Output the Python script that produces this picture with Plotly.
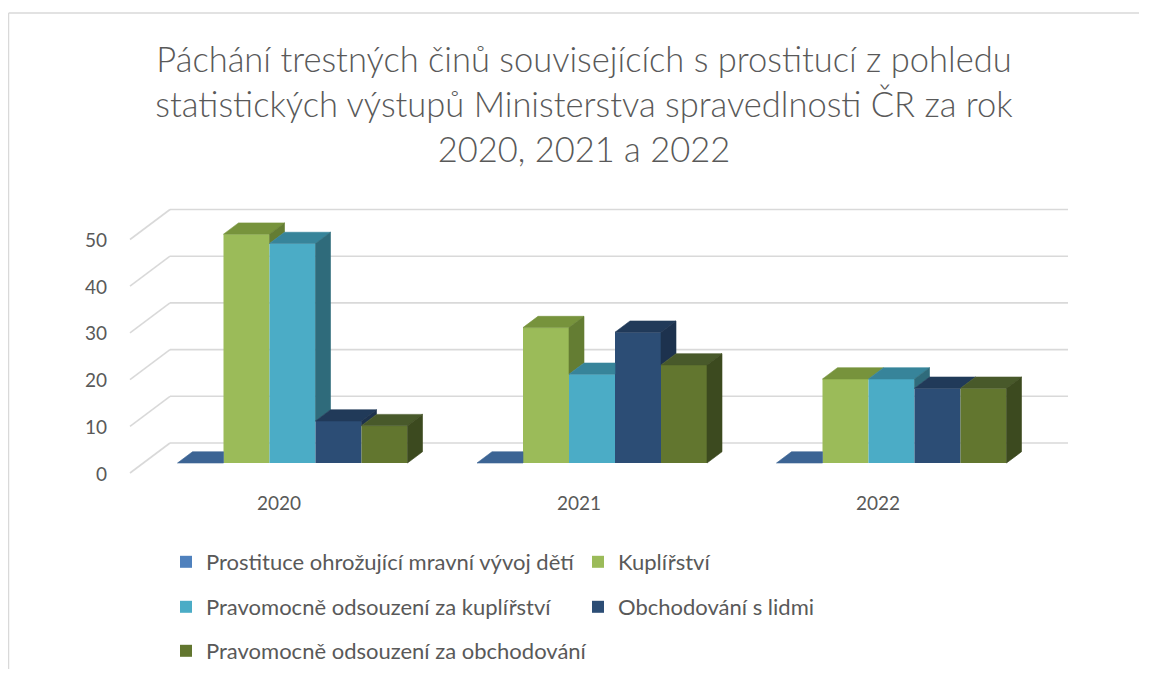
import plotly.graph_objects as go

# ---------------- data ----------------
years = ["2020", "2021", "2022"]
series_names = [
    "Prostituce ohrožující mravní vývoj dětí",
    "Kuplířství",
    "Pravomocně odsouzení za kuplířství",
    "Obchodování s lidmi",
    "Pravomocně odsouzení za obchodování",
]
prostituce_deti = [0, 0, 0]
kuplirstvi = [49, 29, 18]
odsouzeni_kuplirstvi = [47, 19, 18]
obchodovani_s_lidmi = [9, 28, 16]
odsouzeni_obchodovani = [8, 21, 16]
y_ticks = [0, 10, 20, 30, 40, 50]

series_values = [prostituce_deti, kuplirstvi, odsouzeni_kuplirstvi,
                 obchodovani_s_lidmi, odsouzeni_obchodovani]

front_colors = ["#4F81BD", "#9BBB59", "#4BACC6", "#2C4D75", "#62762F"]
top_colors = ["#3C6494", "#77933C", "#37849A", "#213A59", "#48592A"]
side_colors = ["#345683", "#647D33", "#2F6B7B", "#1D324E", "#3C4A1F"]

TEXT = "#595959"
GRID = "#D9D9D9"
FONT = "Lato"

# ---------------- geometry (layout, screen pixels) ----------------
OFF = 8                       # page body margin
W, H = 1150 - 2 * OFF, 677 - 2 * OFF
PL, PR, PT, PB = 60, 1100, 190, 500   # plot area on screen
ML, MR, MT, MB = PL - OFF, W - (PR - OFF), PT - OFF, H - (PB - OFF)
PW = PR - PL
PH = PB - PT
X_PX = 299.5          # px per category
Y_PX = 4.67           # px per value unit
X0_PX = 292.5         # screen px of first category centre
Y0_PX = 463.0         # screen px of value 0 on bar front plane

x_range = [(PL - X0_PX) / X_PX, (PR - X0_PX) / X_PX]
y_range = [(Y0_PX - PB) / Y_PX, (Y0_PX - PT) / Y_PX]

DX_FULL = 40 / X_PX   # full depth of the 3D box
DY_FULL = 30 / Y_PX
BACK_DX, BACK_DY = DX_FULL * 2 / 3, DY_FULL * 2 / 3
FRONT_DX, FRONT_DY = -DX_FULL / 3, -DY_FULL / 3
BAR_DX, BAR_DY = DX_FULL * 3 / 8, DY_FULL * 3 / 8
BAR_W = 46 / X_PX
WALL_X0 = (170 - X0_PX) / X_PX
WALL_X1 = (1068 - X0_PX) / X_PX


def paper_x(sx):
    return (sx - PL) / PW


def paper_y(sy):
    return (PB - sy) / PH


fig = go.Figure()

# front faces as real bars
for j, (name, vals) in enumerate(zip(series_names, series_values)):
    fig.add_trace(go.Bar(
        x=list(range(len(years))), y=vals, name=name,
        width=BAR_W, offset=(j - 2.5) * BAR_W,
        marker=dict(color=front_colors[j], line=dict(width=0)),
        legend="legend" if j == 0 else f"legend{j + 1}",
        hoverinfo="skip",
    ))

# top / side faces derived from the same values
for i in range(len(years)):
    for j in range(len(series_values)):
        v = series_values[j][i]
        v_next = series_values[j + 1][i] if j + 1 < len(series_values) else None
        xl = i + (j - 2.5) * BAR_W
        xr = xl + BAR_W
        if v_next is None or v >= v_next:
            tx = [xl, xr, xr + BAR_DX, xl + BAR_DX, xl]
        else:
            tx = [xl, xr, xr, xl + BAR_DX, xl]
        ty = [v, v, v + BAR_DY, v + BAR_DY, v]
        fig.add_trace(go.Scatter(x=tx, y=ty, fill="toself", mode="lines",
                                 line=dict(width=0.6, color=top_colors[j]),
                                 fillcolor=top_colors[j], showlegend=False,
                                 hoverinfo="skip"))
        base = 0 if v_next is None else max(0, v_next)
        if v > base:
            sx = [xr, xr + BAR_DX, xr + BAR_DX, xr, xr]
            sy = [base, base + BAR_DY, v + BAR_DY, v, base]
            fig.add_trace(go.Scatter(x=sx, y=sy, fill="toself", mode="lines",
                                     line=dict(width=0.6, color=side_colors[j]),
                                     fillcolor=side_colors[j], showlegend=False,
                                     hoverinfo="skip"))

shapes = []
annotations = []
for v in y_ticks:
    yb = v + BACK_DY
    shapes.append(dict(type="line", xref="x", yref="y", layer="below",
                       x0=WALL_X0, x1=WALL_X1, y0=yb, y1=yb,
                       line=dict(color=GRID, width=1.6)))
    shapes.append(dict(type="line", xref="x", yref="y", layer="below",
                       x0=WALL_X0 - DX_FULL, x1=WALL_X0, y0=yb - DY_FULL, y1=yb,
                       line=dict(color=GRID, width=1.6)))
    annotations.append(dict(x=WALL_X0 - DX_FULL, y=yb - DY_FULL, xref="x", yref="y",
                             text=str(v), showarrow=False, xanchor="right",
                             yanchor="middle", xshift=-21,
                             font=dict(family=FONT, size=19, color=TEXT)))

for i, yr in enumerate(years):
    annotations.append(dict(x=i + FRONT_DX, y=FRONT_DY, xref="x", yref="y",
                            text=yr, showarrow=False, xanchor="center",
                            yanchor="middle", yshift=-29,
                            font=dict(family=FONT, size=19, color=TEXT)))

# chart border (only the top and left edges are inside the picture)
shapes.append(dict(type="line", xref="paper", yref="paper",
                   x0=paper_x(OFF + 0.6), x1=paper_x(1139),
                   y0=paper_y(13), y1=paper_y(13),
                   line=dict(color=GRID, width=1.3), layer="below"))
shapes.append(dict(type="line", xref="paper", yref="paper",
                   x0=paper_x(OFF + 0.6), x1=paper_x(OFF + 0.6),
                   y0=paper_y(13), y1=paper_y(670),
                   line=dict(color=GRID, width=1.3), layer="below"))

# legends: one per entry, placed in a 2-column grid (screen px of entry start)
legend_pos = [(166, 562), (578, 562), (166, 607), (578, 607), (166, 651)]
legends = {}
for j, (px, py) in enumerate(legend_pos):
    key = "legend" if j == 0 else f"legend{j + 1}"
    legends[key] = dict(x=paper_x(px), y=paper_y(py),
                        xanchor="left", yanchor="middle", orientation="h",
                        bgcolor="rgba(0,0,0,0)", borderwidth=0,
                        font=dict(family=FONT, size=22, color=TEXT))

fig.update_layout(
    width=W, height=H,
    margin=dict(l=ML, r=MR, t=MT, b=MB, autoexpand=False),
    paper_bgcolor="white", plot_bgcolor="rgba(0,0,0,0)",
    barmode="overlay",
    title=dict(text="Páchání trestných činů souvisejících s prostitucí z pohledu<br>"
                    "statistických výstupů Ministerstva spravedlnosti ČR za rok<br>"
                    "2020, 2021 a 2022",
               x=paper_x(584), xref="paper", xanchor="center",
               y=1 - (72 - OFF) / H, yanchor="top",
               font=dict(family=FONT, size=34.5, color=TEXT, weight=300)),
    xaxis=dict(range=x_range, visible=False, fixedrange=True),
    yaxis=dict(range=y_range, visible=False, fixedrange=True),
    shapes=shapes, annotations=annotations,
    **legends,
)

fig.write_html("out.html")
